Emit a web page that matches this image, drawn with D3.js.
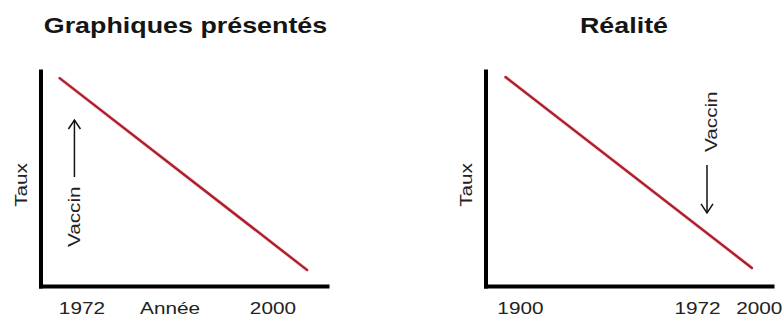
<!DOCTYPE html>
<html lang="fr">

<head>
    <meta charset="UTF-8">
    <title>Graphiques présentés / Réalité</title>
    <script src="https://d3js.org/d3.v7.min.js"></script>
    <style>
        body {
            margin: 0;
            padding: 0;
            background: #fff;
        }

        svg {
            display: block;
            font-family: "Liberation Sans", Arial, sans-serif;
        }

        .title {
            font-size: 22px;
            font-weight: bold;
            fill: #151515;
        }

        .label {
            font-size: 17px;
            fill: #222;
        }
    </style>
</head>

<body>
    <svg id="chart" width="783" height="318"></svg>

    <script>
        // --- data ---
        const titles = ["Graphiques présentés", "Réalité"];

        // rate line (start / end) in each panel
        const leftYears = [1968.8, 2005.1];
        const leftRates = [96.7, 7.4];
        const rightYears = [1894.1, 1996.9];
        const rightRates = [97.2, 8.4];

        // tick labels on the year axis
        const leftTicks = [1972, 2000];
        const rightTicks = [1900, 1972, 2000];

        const vaccineYear = 1972;
        // arrow from / to (rate units), text start (rate units)
        const leftArrow = [50.7, 77.2];
        const rightArrow = [56.3, 34.0];
        const leftVaccinText = 18.1;
        const rightVaccinText = 62.3;

        const svg = d3.select("#chart");
        const stretch = 1.22; // the original glyphs are wide

        function widen(sel) {
            sel.each(function () {
                const w = this.getComputedTextLength();
                d3.select(this)
                    .attr("textLength", w * stretch)
                    .attr("lengthAdjust", "spacingAndGlyphs");
            });
        }

        const y = d3.scaleLinear().domain([0, 100]).range([286, 71]);

        const panels = [
            {
                title: titles[0], cx: 185.5,
                x: d3.scaleLinear().domain([1966, 2008]).range([40.5, 327]),
                years: leftYears, rates: leftRates, ticks: leftTicks, tickPad: 16,
                arrow: leftArrow, arrowDx: -7, textDx: -3, textRate: leftVaccinText,
                tauxX: 27, xTitle: "Année"
            },
            {
                title: titles[1], cx: 624,
                x: d3.scaleLinear().domain([1886, 1972, 2006]).range([485.5, 697, 772]),
                years: rightYears, rates: rightRates, ticks: rightTicks, tickPad: 16,
                arrow: rightArrow, arrowDx: 10, textDx: 18, textRate: rightVaccinText,
                tauxX: 472, xTitle: null
            }
        ];

        panels.forEach(function (p) {
            const g = svg.append("g");

            g.append("text")
                .attr("class", "title")
                .attr("x", p.cx)
                .attr("y", 33)
                .attr("text-anchor", "middle")
                .text(p.title)
                .call(widen);

            // x axis (domain line + tick labels)
            const xAxis = g.append("g")
                .attr("transform", `translate(0,${y(0)})`)
                .call(d3.axisBottom(p.x)
                    .tickValues(p.ticks)
                    .tickFormat(d3.format("d"))
                    .tickSize(0)
                    .tickSizeOuter(0)
                    .tickPadding(p.tickPad));
            xAxis.select(".domain")
                .attr("stroke", "#000")
                .attr("stroke-width", 4)
                .attr("stroke-linecap", "square");
            xAxis.selectAll("text")
                .attr("class", "label")
                .attr("font-size", null)
                .attr("font-family", null)
                .attr("fill", null)
                .call(widen);

            // y axis (domain line only)
            const yAxis = g.append("g")
                .attr("transform", `translate(${p.x.range()[0]},0)`)
                .call(d3.axisLeft(y).tickValues([]).tickSizeOuter(0));
            yAxis.select(".domain")
                .attr("stroke", "#000")
                .attr("stroke-width", 4)
                .attr("stroke-linecap", "square");

            if (p.xTitle) {
                g.append("text")
                    .attr("class", "label")
                    .attr("x", p.x(1985))
                    .attr("y", y(0) + p.tickPad + 12)
                    .attr("text-anchor", "middle")
                    .text(p.xTitle)
                    .call(widen);
            }

            g.append("text")
                .attr("class", "label")
                .attr("transform", `translate(${p.tauxX},${y(47)}) rotate(-90)`)
                .attr("text-anchor", "middle")
                .text("Taux")
                .call(widen);

            // the rate line
            const line = d3.line()
                .x(d => p.x(d[0]))
                .y(d => y(d[1]));
            g.append("path")
                .datum(d3.zip(p.years, p.rates))
                .attr("d", line)
                .attr("fill", "none")
                .attr("stroke", "#e8a0a8")
                .attr("stroke-width", 4)
                .attr("stroke-opacity", 0.35);
            g.append("path")
                .datum(d3.zip(p.years, p.rates))
                .attr("d", line)
                .attr("fill", "none")
                .attr("stroke", "#ad1f2c")
                .attr("stroke-width", 2.4)
                .attr("stroke-linecap", "round");

            // vaccine annotation
            const ax = p.x(vaccineYear) + p.arrowDx;
            const y0 = y(p.arrow[0]), y1 = y(p.arrow[1]);
            const dir = y1 < y0 ? 1 : -1;
            g.append("line")
                .attr("x1", ax).attr("x2", ax)
                .attr("y1", y0).attr("y2", y1)
                .attr("stroke", "#111")
                .attr("stroke-width", 1.5);
            g.append("path")
                .attr("d", `M${ax - 6},${y1 + dir * 9}L${ax},${y1}L${ax + 6},${y1 + dir * 9}`)
                .attr("fill", "none")
                .attr("stroke", "#111")
                .attr("stroke-width", 1.5);

            g.append("text")
                .attr("class", "label")
                .attr("transform", `translate(${p.x(vaccineYear) + p.textDx + 2},${y(p.textRate)}) rotate(-90)`)
                .attr("text-anchor", "start")
                .text("Vaccin")
                .call(widen);
        });
    </script>
</body>

</html>
